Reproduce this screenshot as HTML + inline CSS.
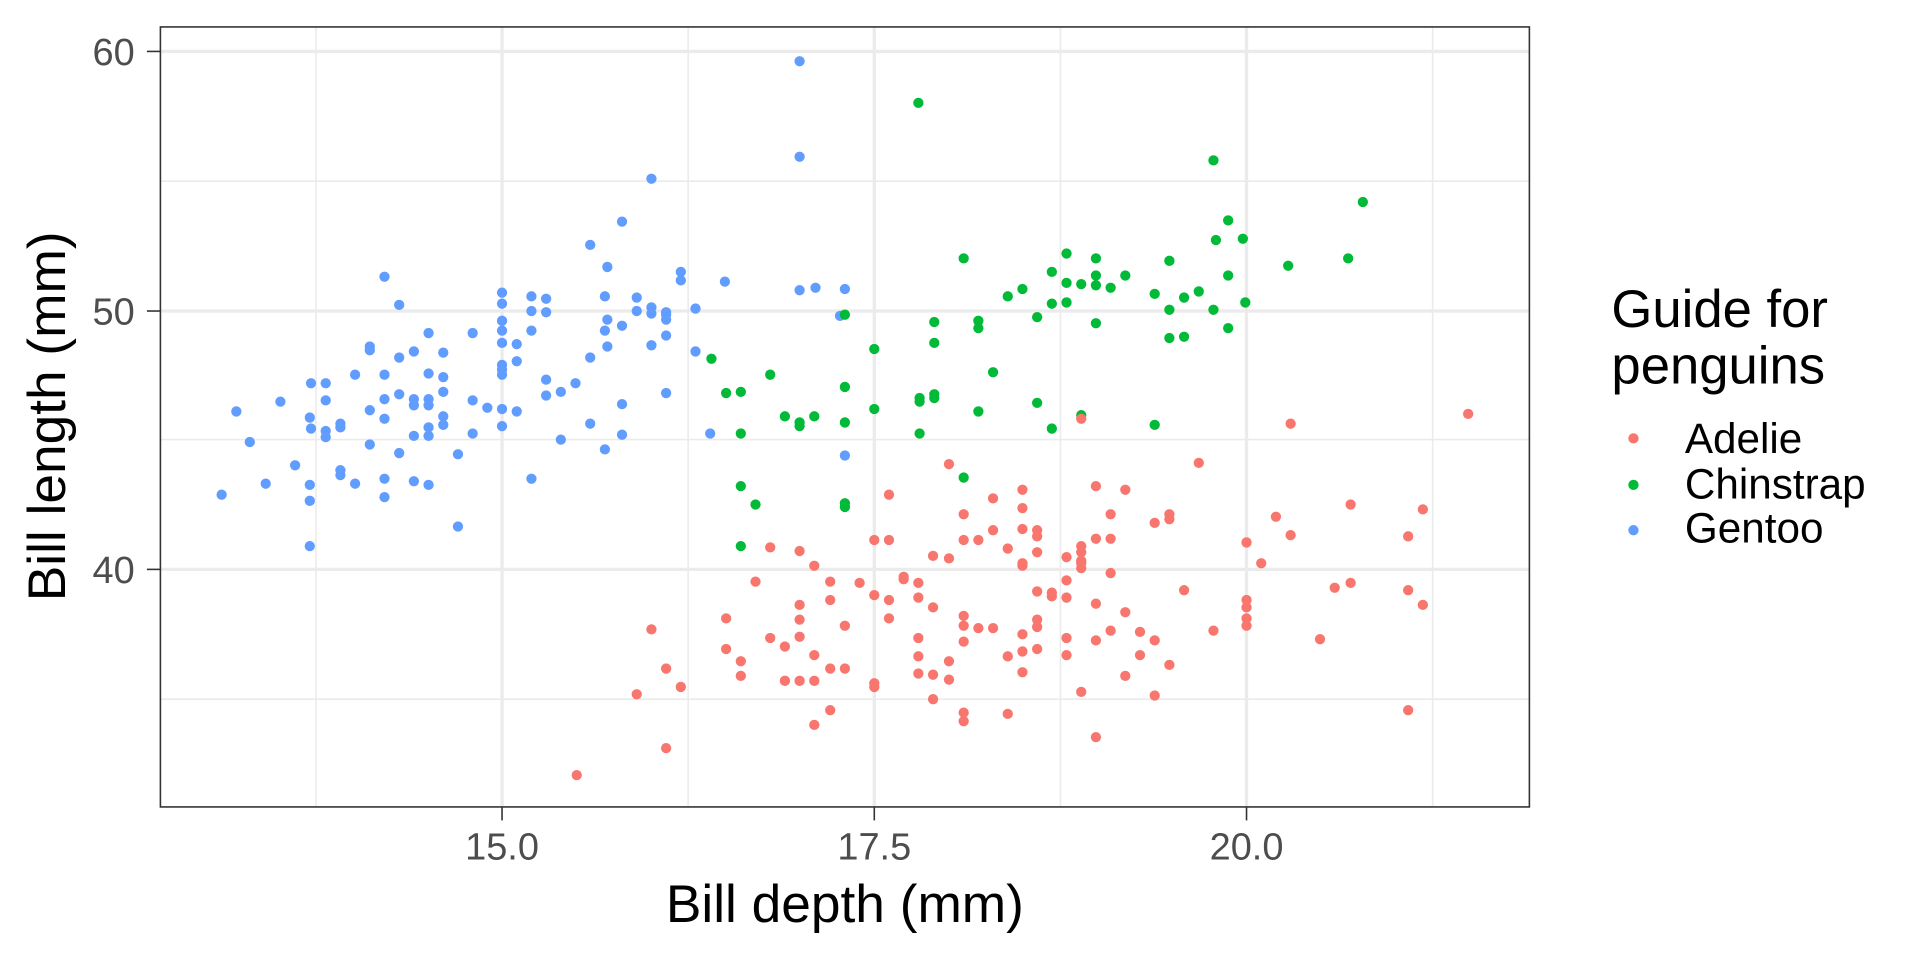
<!DOCTYPE html>
<html><head><meta charset="utf-8"><style>
html,body{margin:0;padding:0;background:#fff;}
svg{display:block;}
text{font-family:"Liberation Sans",sans-serif;}
circle{r:4.2px;}
</style></head><body>
<svg width="1920" height="960" viewBox="0 0 1568 784" xmlns="http://www.w3.org/2000/svg">
<rect width="1568" height="784" fill="#fff"/>
<g stroke="#EBEBEB" stroke-width="1.3">
<line x1="258" y1="22" x2="258" y2="659"/><line x1="562" y1="22" x2="562" y2="659"/><line x1="866" y1="22" x2="866" y2="659"/><line x1="1170" y1="22" x2="1170" y2="659"/>
<line x1="131" y1="148" x2="1249" y2="148"/><line x1="131" y1="359" x2="1249" y2="359"/><line x1="131" y1="571" x2="1249" y2="571"/>
</g>
<g stroke="#EBEBEB" stroke-width="2.7">
<line x1="410" y1="22" x2="410" y2="659"/><line x1="714" y1="22" x2="714" y2="659"/><line x1="1018" y1="22" x2="1018" y2="659"/>
<line x1="131" y1="42" x2="1249" y2="42"/><line x1="131" y1="254" x2="1249" y2="254"/><line x1="131" y1="465" x2="1249" y2="465"/>
</g>
<g fill="#619CFF">
<circle cx="181" cy="404" r="4.2"/><circle cx="193" cy="336" r="4.2"/><circle cx="204" cy="361" r="4.2"/><circle cx="217" cy="395" r="4.2"/><circle cx="229" cy="328" r="4.2"/><circle cx="241" cy="380" r="4.2"/><circle cx="253" cy="341" r="4.2"/><circle cx="253" cy="396" r="4.2"/><circle cx="253" cy="409" r="4.2"/><circle cx="253" cy="446" r="4.2"/><circle cx="254" cy="313" r="4.2"/><circle cx="254" cy="350" r="4.2"/><circle cx="266" cy="313" r="4.2"/><circle cx="266" cy="327" r="4.2"/><circle cx="266" cy="352" r="4.2"/><circle cx="266" cy="357" r="4.2"/><circle cx="278" cy="346" r="4.2"/><circle cx="278" cy="349" r="4.2"/><circle cx="278" cy="384" r="4.2"/><circle cx="278" cy="388" r="4.2"/><circle cx="290" cy="395" r="4.2"/><circle cx="290" cy="306" r="4.2"/><circle cx="302" cy="335" r="4.2"/><circle cx="302" cy="283" r="4.2"/><circle cx="302" cy="286" r="4.2"/><circle cx="302" cy="363" r="4.2"/><circle cx="314" cy="226" r="4.2"/><circle cx="314" cy="306" r="4.2"/><circle cx="314" cy="326" r="4.2"/><circle cx="314" cy="342" r="4.2"/><circle cx="314" cy="391" r="4.2"/><circle cx="314" cy="406" r="4.2"/><circle cx="326" cy="249" r="4.2"/><circle cx="326" cy="292" r="4.2"/><circle cx="326" cy="322" r="4.2"/><circle cx="326" cy="370" r="4.2"/><circle cx="338" cy="287" r="4.2"/><circle cx="338" cy="326" r="4.2"/><circle cx="338" cy="331" r="4.2"/><circle cx="338" cy="393" r="4.2"/><circle cx="338" cy="356" r="4.2"/><circle cx="350" cy="272" r="4.2"/><circle cx="350" cy="305" r="4.2"/><circle cx="350" cy="326" r="4.2"/><circle cx="350" cy="331" r="4.2"/><circle cx="350" cy="349" r="4.2"/><circle cx="350" cy="356" r="4.2"/><circle cx="350" cy="396" r="4.2"/><circle cx="362" cy="288" r="4.2"/><circle cx="362" cy="308" r="4.2"/><circle cx="362" cy="320" r="4.2"/><circle cx="362" cy="347" r="4.2"/><circle cx="362" cy="340" r="4.2"/><circle cx="374" cy="371" r="4.2"/><circle cx="374" cy="430" r="4.2"/><circle cx="386" cy="272" r="4.2"/><circle cx="386" cy="327" r="4.2"/><circle cx="386" cy="354" r="4.2"/><circle cx="398" cy="333" r="4.2"/><circle cx="410" cy="239" r="4.2"/><circle cx="410" cy="248" r="4.2"/><circle cx="410" cy="262" r="4.2"/><circle cx="410" cy="270" r="4.2"/><circle cx="410" cy="280" r="4.2"/><circle cx="410" cy="298" r="4.2"/><circle cx="410" cy="302" r="4.2"/><circle cx="410" cy="306" r="4.2"/><circle cx="410" cy="334" r="4.2"/><circle cx="410" cy="348" r="4.2"/><circle cx="422" cy="281" r="4.2"/><circle cx="422" cy="295" r="4.2"/><circle cx="422" cy="336" r="4.2"/><circle cx="434" cy="242" r="4.2"/><circle cx="434" cy="254" r="4.2"/><circle cx="434" cy="270" r="4.2"/><circle cx="434" cy="391" r="4.2"/><circle cx="446" cy="244" r="4.2"/><circle cx="446" cy="255" r="4.2"/><circle cx="446" cy="310" r="4.2"/><circle cx="446" cy="323" r="4.2"/><circle cx="458" cy="320" r="4.2"/><circle cx="458" cy="359" r="4.2"/><circle cx="470" cy="313" r="4.2"/><circle cx="482" cy="346" r="4.2"/><circle cx="482" cy="292" r="4.2"/><circle cx="482" cy="200" r="4.2"/><circle cx="494" cy="367" r="4.2"/><circle cx="494" cy="270" r="4.2"/><circle cx="494" cy="242" r="4.2"/><circle cx="496" cy="218" r="4.2"/><circle cx="496" cy="261" r="4.2"/><circle cx="496" cy="283" r="4.2"/><circle cx="508" cy="266" r="4.2"/><circle cx="508" cy="181" r="4.2"/><circle cx="508" cy="330" r="4.2"/><circle cx="508" cy="355" r="4.2"/><circle cx="520" cy="243" r="4.2"/><circle cx="520" cy="254" r="4.2"/><circle cx="532" cy="256" r="4.2"/><circle cx="532" cy="251" r="4.2"/><circle cx="532" cy="146" r="4.2"/><circle cx="544" cy="257" r="4.2"/><circle cx="544" cy="261" r="4.2"/><circle cx="544" cy="274" r="4.2"/><circle cx="544" cy="321" r="4.2"/><circle cx="544" cy="255" r="4.2"/><circle cx="532" cy="282" r="4.2"/><circle cx="556" cy="222" r="4.2"/><circle cx="556" cy="229" r="4.2"/><circle cx="568" cy="252" r="4.2"/><circle cx="568" cy="287" r="4.2"/><circle cx="580" cy="354" r="4.2"/><circle cx="592" cy="230" r="4.2"/><circle cx="653" cy="50" r="4.2"/><circle cx="653" cy="128" r="4.2"/><circle cx="653" cy="237" r="4.2"/><circle cx="666" cy="235" r="4.2"/><circle cx="690" cy="236" r="4.2"/><circle cx="690" cy="372" r="4.2"/><circle cx="686" cy="258" r="4.2"/>
</g>
<g fill="#00BA38">
<circle cx="581" cy="293" r="4.2"/><circle cx="593" cy="321" r="4.2"/><circle cx="605" cy="320" r="4.2"/><circle cx="605" cy="354" r="4.2"/><circle cx="605" cy="397" r="4.2"/><circle cx="605" cy="446" r="4.2"/><circle cx="617" cy="412" r="4.2"/><circle cx="629" cy="306" r="4.2"/><circle cx="641" cy="340" r="4.2"/><circle cx="653" cy="345" r="4.2"/><circle cx="653" cy="348" r="4.2"/><circle cx="665" cy="340" r="4.2"/><circle cx="690" cy="257" r="4.2"/><circle cx="690" cy="316" r="4.2"/><circle cx="690" cy="345" r="4.2"/><circle cx="690" cy="411" r="4.2"/><circle cx="690" cy="414" r="4.2"/><circle cx="714" cy="285" r="4.2"/><circle cx="714" cy="334" r="4.2"/><circle cx="750" cy="84" r="4.2"/><circle cx="751" cy="325" r="4.2"/><circle cx="751" cy="328" r="4.2"/><circle cx="751" cy="354" r="4.2"/><circle cx="763" cy="322" r="4.2"/><circle cx="763" cy="325" r="4.2"/><circle cx="763" cy="263" r="4.2"/><circle cx="763" cy="280" r="4.2"/><circle cx="787" cy="211" r="4.2"/><circle cx="787" cy="390" r="4.2"/><circle cx="799" cy="262" r="4.2"/><circle cx="799" cy="268" r="4.2"/><circle cx="799" cy="336" r="4.2"/><circle cx="811" cy="304" r="4.2"/><circle cx="823" cy="242" r="4.2"/><circle cx="835" cy="236" r="4.2"/><circle cx="847" cy="259" r="4.2"/><circle cx="847" cy="329" r="4.2"/><circle cx="859" cy="222" r="4.2"/><circle cx="859" cy="248" r="4.2"/><circle cx="859" cy="350" r="4.2"/><circle cx="871" cy="207" r="4.2"/><circle cx="871" cy="231" r="4.2"/><circle cx="871" cy="247" r="4.2"/><circle cx="883" cy="232" r="4.2"/><circle cx="883" cy="339" r="4.2"/><circle cx="895" cy="211" r="4.2"/><circle cx="895" cy="225" r="4.2"/><circle cx="895" cy="233" r="4.2"/><circle cx="895" cy="264" r="4.2"/><circle cx="907" cy="235" r="4.2"/><circle cx="919" cy="225" r="4.2"/><circle cx="943" cy="240" r="4.2"/><circle cx="943" cy="347" r="4.2"/><circle cx="955" cy="213" r="4.2"/><circle cx="955" cy="276" r="4.2"/><circle cx="955" cy="253" r="4.2"/><circle cx="967" cy="243" r="4.2"/><circle cx="967" cy="275" r="4.2"/><circle cx="979" cy="238" r="4.2"/><circle cx="991" cy="253" r="4.2"/><circle cx="991" cy="131" r="4.2"/><circle cx="1003" cy="180" r="4.2"/><circle cx="993" cy="196" r="4.2"/><circle cx="1003" cy="225" r="4.2"/><circle cx="1003" cy="268" r="4.2"/><circle cx="1015" cy="195" r="4.2"/><circle cx="1017" cy="247" r="4.2"/><circle cx="1052" cy="217" r="4.2"/><circle cx="1101" cy="211" r="4.2"/><circle cx="1113" cy="165" r="4.2"/>
</g>
<g fill="#F8766D">
<circle cx="471" cy="633" r="4.2"/><circle cx="520" cy="567" r="4.2"/><circle cx="532" cy="514" r="4.2"/><circle cx="544" cy="546" r="4.2"/><circle cx="544" cy="611" r="4.2"/><circle cx="556" cy="561" r="4.2"/><circle cx="593" cy="505" r="4.2"/><circle cx="593" cy="530" r="4.2"/><circle cx="605" cy="540" r="4.2"/><circle cx="605" cy="552" r="4.2"/><circle cx="617" cy="475" r="4.2"/><circle cx="629" cy="447" r="4.2"/><circle cx="629" cy="521" r="4.2"/><circle cx="641" cy="528" r="4.2"/><circle cx="641" cy="556" r="4.2"/><circle cx="653" cy="520" r="4.2"/><circle cx="653" cy="556" r="4.2"/><circle cx="653" cy="450" r="4.2"/><circle cx="665" cy="462" r="4.2"/><circle cx="665" cy="535" r="4.2"/><circle cx="665" cy="556" r="4.2"/><circle cx="653" cy="494" r="4.2"/><circle cx="653" cy="506" r="4.2"/><circle cx="678" cy="490" r="4.2"/><circle cx="678" cy="475" r="4.2"/><circle cx="678" cy="546" r="4.2"/><circle cx="678" cy="580" r="4.2"/><circle cx="665" cy="592" r="4.2"/><circle cx="690" cy="546" r="4.2"/><circle cx="690" cy="511" r="4.2"/><circle cx="702" cy="476" r="4.2"/><circle cx="714" cy="486" r="4.2"/><circle cx="714" cy="441" r="4.2"/><circle cx="714" cy="558" r="4.2"/><circle cx="714" cy="561" r="4.2"/><circle cx="726" cy="404" r="4.2"/><circle cx="726" cy="441" r="4.2"/><circle cx="726" cy="490" r="4.2"/><circle cx="726" cy="505" r="4.2"/><circle cx="738" cy="473" r="4.2"/><circle cx="738" cy="471" r="4.2"/><circle cx="750" cy="476" r="4.2"/><circle cx="750" cy="488" r="4.2"/><circle cx="750" cy="521" r="4.2"/><circle cx="750" cy="536" r="4.2"/><circle cx="750" cy="550" r="4.2"/><circle cx="762" cy="571" r="4.2"/><circle cx="762" cy="496" r="4.2"/><circle cx="762" cy="551" r="4.2"/><circle cx="762" cy="454" r="4.2"/><circle cx="775" cy="379" r="4.2"/><circle cx="775" cy="456" r="4.2"/><circle cx="775" cy="540" r="4.2"/><circle cx="775" cy="555" r="4.2"/><circle cx="787" cy="420" r="4.2"/><circle cx="787" cy="441" r="4.2"/><circle cx="787" cy="503" r="4.2"/><circle cx="787" cy="511" r="4.2"/><circle cx="787" cy="524" r="4.2"/><circle cx="787" cy="582" r="4.2"/><circle cx="787" cy="589" r="4.2"/><circle cx="799" cy="441" r="4.2"/><circle cx="799" cy="513" r="4.2"/><circle cx="811" cy="433" r="4.2"/><circle cx="811" cy="513" r="4.2"/><circle cx="811" cy="407" r="4.2"/><circle cx="823" cy="583" r="4.2"/><circle cx="823" cy="536" r="4.2"/><circle cx="823" cy="448" r="4.2"/><circle cx="835" cy="415" r="4.2"/><circle cx="835" cy="432" r="4.2"/><circle cx="835" cy="460" r="4.2"/><circle cx="835" cy="462" r="4.2"/><circle cx="835" cy="400" r="4.2"/><circle cx="835" cy="532" r="4.2"/><circle cx="835" cy="549" r="4.2"/><circle cx="835" cy="518" r="4.2"/><circle cx="847" cy="433" r="4.2"/><circle cx="847" cy="438" r="4.2"/><circle cx="847" cy="451" r="4.2"/><circle cx="847" cy="483" r="4.2"/><circle cx="847" cy="506" r="4.2"/><circle cx="847" cy="512" r="4.2"/><circle cx="847" cy="530" r="4.2"/><circle cx="859" cy="484" r="4.2"/><circle cx="859" cy="487" r="4.2"/><circle cx="871" cy="455" r="4.2"/><circle cx="871" cy="474" r="4.2"/><circle cx="871" cy="488" r="4.2"/><circle cx="871" cy="535" r="4.2"/><circle cx="871" cy="521" r="4.2"/><circle cx="883" cy="446" r="4.2"/><circle cx="883" cy="451" r="4.2"/><circle cx="883" cy="458" r="4.2"/><circle cx="883" cy="460" r="4.2"/><circle cx="883" cy="464" r="4.2"/><circle cx="883" cy="342" r="4.2"/><circle cx="883" cy="565" r="4.2"/><circle cx="895" cy="397" r="4.2"/><circle cx="895" cy="440" r="4.2"/><circle cx="895" cy="493" r="4.2"/><circle cx="895" cy="523" r="4.2"/><circle cx="895" cy="602" r="4.2"/><circle cx="907" cy="420" r="4.2"/><circle cx="907" cy="440" r="4.2"/><circle cx="907" cy="468" r="4.2"/><circle cx="907" cy="515" r="4.2"/><circle cx="919" cy="400" r="4.2"/><circle cx="919" cy="500" r="4.2"/><circle cx="919" cy="552" r="4.2"/><circle cx="931" cy="516" r="4.2"/><circle cx="931" cy="535" r="4.2"/><circle cx="943" cy="427" r="4.2"/><circle cx="943" cy="523" r="4.2"/><circle cx="943" cy="568" r="4.2"/><circle cx="955" cy="420" r="4.2"/><circle cx="955" cy="424" r="4.2"/><circle cx="955" cy="543" r="4.2"/><circle cx="967" cy="482" r="4.2"/><circle cx="979" cy="378" r="4.2"/><circle cx="991" cy="515" r="4.2"/><circle cx="1018" cy="443" r="4.2"/><circle cx="1018" cy="490" r="4.2"/><circle cx="1018" cy="496" r="4.2"/><circle cx="1018" cy="505" r="4.2"/><circle cx="1018" cy="511" r="4.2"/><circle cx="1030" cy="460" r="4.2"/><circle cx="1042" cy="422" r="4.2"/><circle cx="1054" cy="437" r="4.2"/><circle cx="1054" cy="346" r="4.2"/><circle cx="1078" cy="522" r="4.2"/><circle cx="1090" cy="480" r="4.2"/><circle cx="1103" cy="476" r="4.2"/><circle cx="1103" cy="412" r="4.2"/><circle cx="1150" cy="438" r="4.2"/><circle cx="1150" cy="482" r="4.2"/><circle cx="1150" cy="580" r="4.2"/><circle cx="1162" cy="416" r="4.2"/><circle cx="1162" cy="494" r="4.2"/><circle cx="1199" cy="338" r="4.2"/>
</g>
<rect x="131" y="22" width="1118" height="637" fill="none" stroke="#333" stroke-width="1.3"/>
<g stroke="#333" stroke-width="1.3">
<line x1="120" y1="42" x2="131" y2="42"/><line x1="120" y1="254" x2="131" y2="254"/><line x1="120" y1="465" x2="131" y2="465"/>
<line x1="410" y1="659" x2="410" y2="670"/><line x1="714" y1="659" x2="714" y2="670"/><line x1="1018" y1="659" x2="1018" y2="670"/>
</g>
<g fill="#4D4D4D" font-size="31">
<text x="110" y="53" text-anchor="end">60</text><text x="110" y="265" text-anchor="end">50</text><text x="110" y="476" text-anchor="end">40</text>
<text x="410" y="702" text-anchor="middle">15.0</text><text x="714" y="702" text-anchor="middle">17.5</text><text x="1018" y="702" text-anchor="middle">20.0</text>
</g>
<text x="690" y="753" text-anchor="middle" font-size="43.5" fill="#000">Bill depth (mm)</text>
<text transform="translate(53,340) rotate(-90)" text-anchor="middle" font-size="43.5" fill="#000">Bill length (mm)</text>
<text x="1316" y="267" font-size="43" fill="#000">Guide for</text>
<text x="1316" y="313" font-size="43" fill="#000">penguins</text>
<circle cx="1334" cy="358" r="5" fill="#F8766D"/><circle cx="1334" cy="396" r="5" fill="#00BA38"/><circle cx="1334" cy="433" r="5" fill="#619CFF"/>
<g font-size="34.5" fill="#000">
<text x="1376" y="370">Adelie</text><text x="1376" y="407">Chinstrap</text><text x="1376" y="443">Gentoo</text>
</g>
</svg>
</body></html>
